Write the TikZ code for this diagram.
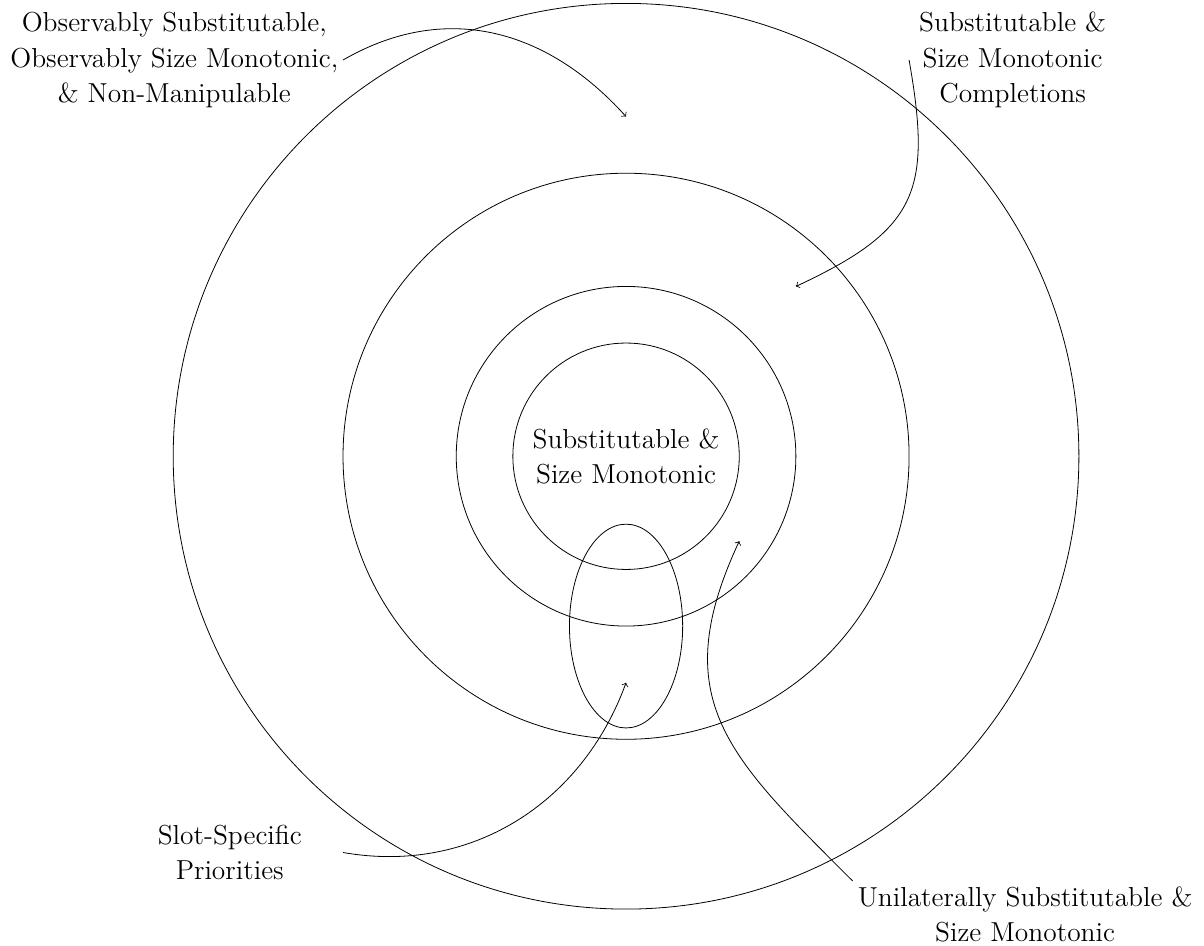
\documentclass[tikz,border=0pt]{standalone}
\usetikzlibrary{shapes.geometric}
\begin{document}
\begin{tikzpicture}[
  lbl/.style={font=\fontsize{13.8}{17.7}\selectfont, align=center},
  ring/.style={circle, draw, inner sep=0pt, outer sep=0pt},
  arr/.style={->}
]
\useasboundingbox (-11.06,-8.64) rectangle (10.21,8.06);
\node[ring, minimum size=16cm] (c1) at (0,0) {};
\node[ring, minimum size=10cm] (c2) at (0,0) {};
\node[ring, minimum size=6cm] (c3) at (0,0) {};
\node[ring, minimum size=4cm] (c4) at (0,0) {};
\node[ellipse, draw, inner sep=0pt, outer sep=0pt, minimum width=2cm, minimum height=3.6cm] (el) at (0,-3) {};
\node[lbl] (center) at (0,0) {Substitutable \&\\Size Monotonic};
\node[lbl] (tl) at (-7.98,7) {Observably Substitutable,\\Observably Size Monotonic,\\\& Non-Manipulable};
\node[lbl] (tr) at (6.83,7) {Substitutable \&\\Size Monotonic\\Completions};
\node[lbl] (bl) at (-7,-7) {Slot-Specific\\Priorities};
\node[lbl] (br) at (7.05,-8.1) {Unilaterally Substitutable \&\\Size Monotonic};
\coordinate (s1) at (-5,7);
\coordinate (t1) at (0,6);
\coordinate (s2) at (5,7);
\coordinate (t2) at (3,3);
\coordinate (s3) at (-5,-7);
\coordinate (t3) at (0,-4);
\coordinate (s4) at (4,-7.5);
\coordinate (t4) at (2,-1.5);
\draw[arr] (s1) to[out=30, in=132, looseness=1.05] (t1);
\draw[arr] (s2) to[out=-80, in=25, looseness=1.35] (t2);
\draw[arr] (s3) to[out=-10, in=-110] (t3);
\draw[arr] (s4) to[out=135, in=-115, looseness=1.25] (t4);
\end{tikzpicture}
\end{document}
